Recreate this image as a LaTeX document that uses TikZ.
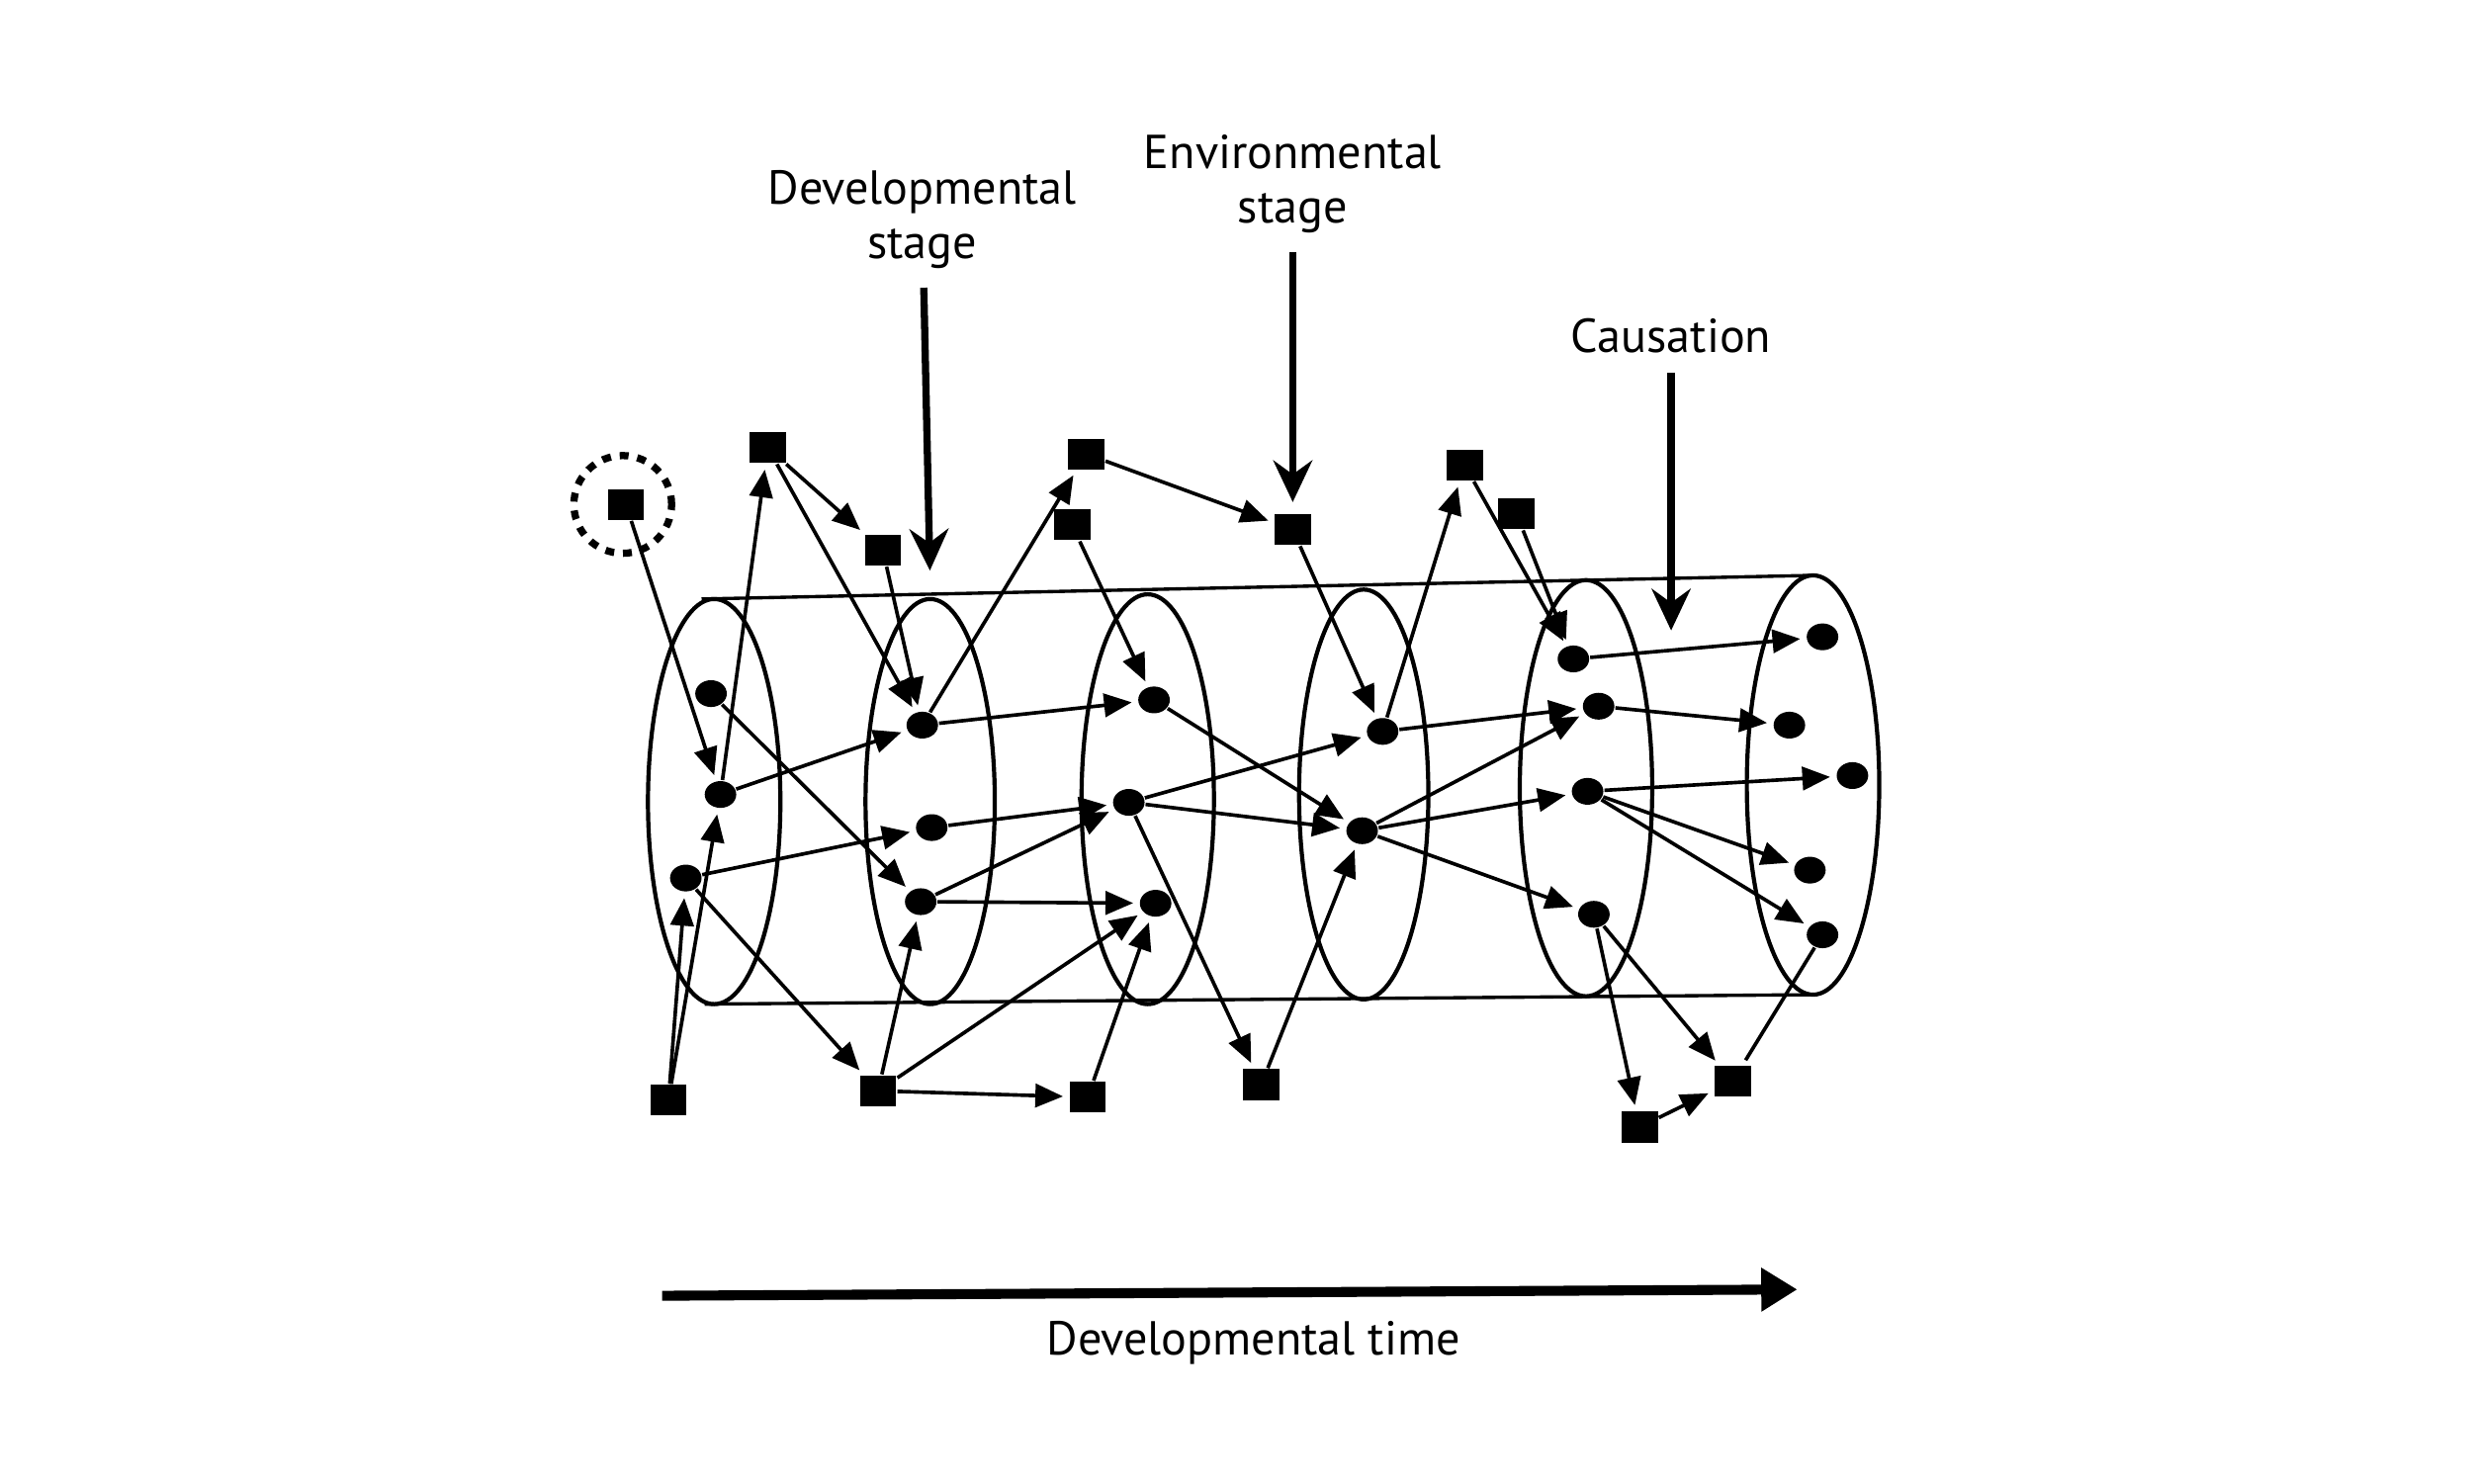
\documentclass[tikz,border=0pt]{standalone}
\usepackage{fontspec}
\setmainfont{PT Sans}
\usetikzlibrary{arrows.meta,shapes.geometric}
\begin{document}
\begin{tikzpicture}[x=1cm,y=-1cm,
    dot/.style={ellipse,fill,inner sep=0pt,minimum width=2.0mm,minimum height=1.7mm},
    box/.style={rectangle,fill,inner sep=0pt,minimum width=2.3mm,minimum height=1.95mm},
    ring/.style={circle,draw,line width=1.3pt,dash pattern=on 1.6pt off 1.6pt,minimum size=6.2mm},
    link/.style={line width=0.65pt,-{Triangle[length=5pt,width=4.2pt]},shorten >=1pt},
    stagearrow/.style={line width=1.3pt,-{Stealth[length=7.5pt,width=7pt,inset=2.5pt]},shorten >=2pt},
    lbl/.style={font=\fontsize{8.6}{9.8}\selectfont,align=center}]
      \useasboundingbox (0,0) rectangle (15.68,9.41);
      % cylinder
      \draw[line width=0.6pt] (4.45,3.80) -- (11.50,3.65);
      \draw[line width=0.6pt] (4.47,6.37) -- (11.50,6.31);
      \draw[line width=0.75pt] (4.53,5.085) ellipse (0.42 and 1.285);
      \draw[line width=0.75pt] (5.90,5.085) ellipse (0.41 and 1.285);
      \draw[line width=0.75pt] (7.28,5.07) ellipse (0.42 and 1.30);
      \draw[line width=0.75pt] (8.65,5.04) ellipse (0.41 and 1.30);
      \draw[line width=0.75pt] (10.06,5.00) ellipse (0.42 and 1.32);
      \draw[line width=0.75pt] (11.50,4.98) ellipse (0.42 and 1.33);
      % stages
      \path
        (4.51,4.40) node[dot] (a1){}
        (4.57,5.04) node[dot] (a2){}
        (4.35,5.57) node[dot] (a3){}
        (5.85,4.60) node[dot] (b1){}
        (5.91,5.25) node[dot] (b2){}
        (5.84,5.72) node[dot] (b3){}
        (7.32,4.44) node[dot] (c1){}
        (7.16,5.09) node[dot] (c2){}
        (7.33,5.73) node[dot] (c3){}
        (8.77,4.64) node[dot] (d1){}
        (8.64,5.27) node[dot] (d2){}
        (9.98,4.18) node[dot] (e1){}
        (10.14,4.48) node[dot] (e2){}
        (10.07,5.02) node[dot] (e3){}
        (10.11,5.80) node[dot] (e4){}
        (11.56,4.04) node[dot] (f1){}
        (11.35,4.60) node[dot] (f2){}
        (11.75,4.92) node[dot] (f3){}
        (11.48,5.52) node[dot] (f4){}
        (11.56,5.93) node[dot] (f5){};
      % environment
      \path
        (3.97,3.20) node[box] (s0){}
        (4.87,2.84) node[box] (s1){}
        (5.60,3.49) node[box] (s2){}
        (6.89,2.88) node[box] (s3){}
        (6.80,3.33) node[box] (s4){}
        (8.20,3.36) node[box] (s5){}
        (9.29,2.95) node[box] (s6){}
        (9.62,3.26) node[box] (s7){}
        (4.24,6.98) node[box] (q1){}
        (5.57,6.92) node[box] (q2){}
        (6.90,6.96) node[box] (q3){}
        (8.00,6.88) node[box] (q4){}
        (10.99,6.86) node[box] (q5){}
        (10.40,7.15) node[box] (q6){};
      \node[ring] (s0ring) at (3.95,3.20) {};
      \begin{scope}[link]
        \draw (s0) to (a2);
        \draw (a2) to (s1);
        \draw (s1) to (s2);
        \draw (s1) to (b1);
        \draw (s2) to (b1);
        \draw (b1) to (s3);
        \draw (a2) to (b1);
        \draw (a1) to (b3);
        \draw (a3) to (b2);
        \draw (a3) to (q2);
        \draw (q1) to (a3);
        \draw (q1) to (a2);
        \draw (q2) to (b3);
        \draw (q2) to (c3);
        \draw (q2) to (q3);
        \draw (q3) to (c3);
        \draw (b1) to (c1);
        \draw (b2) to (c2);
        \draw (b3) to (c2);
        \draw (b3) to (c3);
        \draw (s3) to (s5);
        \draw (s4) to (c1);
        \draw (c1) to (d2);
        \draw (c2) to (d1);
        \draw (c2) to (d2);
        \draw (c2) to (q4);
        \draw (q4) to (d2);
        \draw (s5) to (d1);
        \draw (d1) to (s6);
        \draw (s6) to (e1);
        \draw (s7) to (e1);
        \draw (d1) to (e2);
        \draw (d2) to (e2);
        \draw (d2) to (e3);
        \draw (d2) to (e4);
        \draw (e1) to (f1);
        \draw (e2) to (f2);
        \draw (e3) to (f3);
        \draw (e3) to (f4);
        \draw (e3) to (f5);
        \draw (e4) to (q6);
        \draw (e4) to (q5);
        \draw (q6) to (q5);
        \draw[-] (f5) to (q5);
      \end{scope}
      % labels
      \node[lbl] (devlbl) at (5.85,1.39) {Developmental\\stage};
      \node[lbl] (envlbl) at (8.20,1.165) {Environmental\\stage};
      \node[lbl] (causelbl) at (10.60,2.13) {Causation};
      \node[lbl] (timelbl) at (7.95,8.52) {Developmental time};
      \coordinate (devtip) at (5.90,3.69);
      \coordinate (causetip) at (10.60,4.07);
      \draw[stagearrow] (devlbl) -- (devtip);
      \draw[stagearrow] (envlbl) -- (s5);
      \draw[stagearrow] (causelbl) -- (causetip);
      \coordinate (tstart) at (4.20,8.22);
      \coordinate (tend) at (11.40,8.18);
      \draw[line width=1.8pt,-{Triangle[length=6.5pt,width=7.5pt]}] (tstart) -- (tend);
    \end{tikzpicture}
\end{document}
